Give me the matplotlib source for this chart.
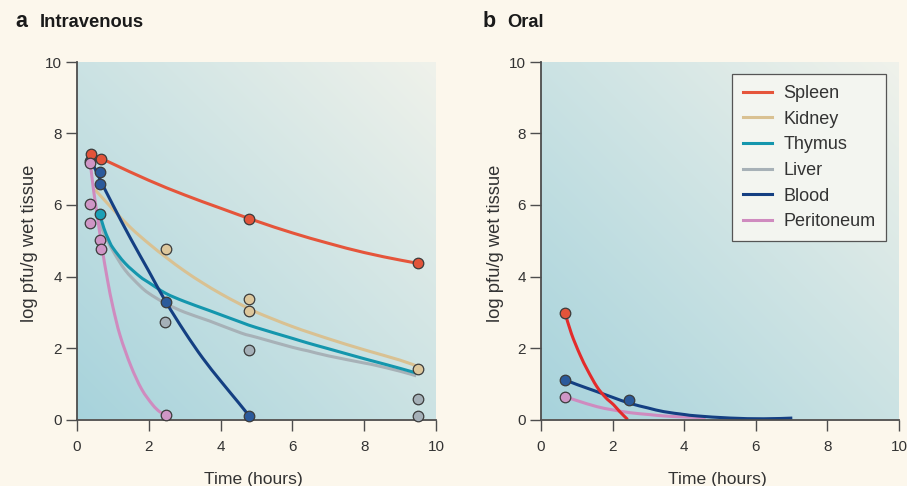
import numpy as np
import matplotlib
matplotlib.use("Agg")
import matplotlib.pyplot as plt
from matplotlib.lines import Line2D
from matplotlib.path import Path
from matplotlib.patches import PathPatch

# ---------------- data ----------------
organs = ["Spleen", "Kidney", "Thymus", "Liver", "Blood", "Peritoneum"]

# Panel a: intravenous – measured points
iv_spleen_x = [0.39, 0.66, 4.78, 9.5]
iv_spleen_y = [7.44, 7.28, 5.60, 4.37]
iv_kidney_x = [2.48, 4.78, 4.78, 9.5]
iv_kidney_y = [4.78, 3.37, 3.04, 1.42]
iv_thymus_x = [0.63]
iv_thymus_y = [5.76]
iv_liver_x = [2.46, 4.78, 9.5, 9.5]
iv_liver_y = [2.72, 1.94, 0.57, 0.10]
iv_blood_x = [0.37, 0.65, 0.65, 2.47, 4.78]
iv_blood_y = [7.24, 6.91, 6.58, 3.29, 0.10]
iv_perit_x = [0.37, 0.37, 0.35, 0.64, 0.68, 2.48]
iv_perit_y = [7.17, 6.02, 5.51, 5.02, 4.76, 0.13]

# Panel a: fitted curves
iv_spleen_fx = [0.39, 1.0, 2.0, 3.0, 4.0, 5.0, 6.0, 7.0, 8.0, 9.0, 9.5]
iv_spleen_fy = [7.44, 7.15, 6.69, 6.28, 5.91, 5.55, 5.22, 4.93, 4.67, 4.46, 4.37]
iv_kidney_fx = [0.5, 1.0, 1.5, 2.0, 2.5, 3.0, 3.5, 4.0, 4.5, 5.0, 6.0, 7.0, 8.0, 9.0, 9.5]
iv_kidney_fy = [6.43, 5.88, 5.36, 4.92, 4.52, 4.15, 3.82, 3.52, 3.25, 3.00, 2.60, 2.26, 1.95, 1.66, 1.48]
iv_thymus_fx = [0.63, 0.75, 0.88, 1.0, 1.34, 1.75, 2.0, 2.47, 3.0, 3.68, 4.57, 5.0, 6.0, 6.43, 7.0, 8.0, 8.3, 9.0, 9.45]
iv_thymus_fy = [5.76, 5.35, 5.03, 4.80, 4.37, 4.00, 3.83, 3.53, 3.30, 3.05, 2.72, 2.57, 2.27, 2.14, 1.98, 1.70, 1.62, 1.43, 1.30]
iv_liver_fx = [0.63, 0.75, 1.0, 1.34, 1.75, 2.0, 2.46, 3.0, 3.68, 4.57, 5.0, 6.0, 6.43, 7.0, 8.0, 8.3, 9.0, 9.45]
iv_liver_fy = [5.55, 5.20, 4.72, 4.18, 3.74, 3.53, 3.25, 3.00, 2.76, 2.42, 2.30, 2.02, 1.92, 1.78, 1.58, 1.52, 1.35, 1.22]
iv_blood_fx = [0.37, 0.65, 1.0, 1.5, 2.0, 2.47, 3.0, 3.5, 4.0, 4.5, 4.78]
iv_blood_fy = [7.30, 6.70, 6.00, 5.05, 4.15, 3.30, 2.45, 1.72, 1.08, 0.47, 0.12]
iv_perit_fx = [0.37, 0.45, 0.55, 0.69, 0.85, 1.0, 1.2, 1.5, 1.8, 2.1, 2.3, 2.48]
iv_perit_fy = [7.20, 6.50, 5.80, 4.85, 3.90, 3.15, 2.35, 1.50, 0.85, 0.42, 0.22, 0.13]

# Panel b: oral – measured points
or_spleen_x = [0.67]
or_spleen_y = [2.99]
or_blood_x = [0.67, 2.46]
or_blood_y = [1.11, 0.55]
or_perit_x = [0.67]
or_perit_y = [0.64]

# Panel b: fitted curves
or_spleen_fx = [0.67, 0.85, 1.09, 1.3, 1.56, 1.8, 2.03, 2.2, 2.42]
or_spleen_fy = [2.99, 2.40, 1.81, 1.38, 0.92, 0.62, 0.41, 0.22, 0.00]
or_blood_fx = [0.67, 1.0, 1.56, 2.0, 2.49, 3.0, 3.43, 4.0, 4.36, 5.29, 6.22, 7.02]
or_blood_fy = [1.11, 0.98, 0.78, 0.62, 0.45, 0.32, 0.22, 0.14, 0.10, 0.04, 0.02, 0.04]
or_perit_fx = [0.67, 1.0, 1.56, 2.0, 2.49, 3.0, 3.43, 4.0, 4.6]
or_perit_fy = [0.64, 0.53, 0.36, 0.27, 0.19, 0.14, 0.10, 0.07, 0.05]

x_ticks = [0, 2, 4, 6, 8, 10]
y_ticks = [0, 2, 4, 6, 8, 10]

# ---------------- style ----------------
line_col = {"Spleen": "#e5553b", "Kidney": "#d9c192", "Thymus": "#1496ad",
            "Liver": "#a7b1b7", "Blood": "#143f82", "Peritoneum": "#cf8bbf"}
mark_col = {"Spleen": "#e2543a", "Kidney": "#ddc79c", "Thymus": "#1ba0b6",
            "Liver": "#a5b0b8", "Blood": "#2b5a9b", "Peritoneum": "#cf96c6"}
oral_spleen_line = "#e32b2b"
BG = "#fcf7ec"
SPINE = "#4d4d4d"
TXT = "#333333"
FONT = ["Liberation Sans", "DejaVu Sans"]
plt.rcParams["font.family"] = FONT

fig = plt.figure(figsize=(9.07, 4.86), dpi=100, facecolor=BG)

W, H = 907.0, 486.0
def rect(x0, x1, ytop, ybot):
    return [x0 / W, 1 - ybot / H, (x1 - x0) / W, (ybot - ytop) / H]

axA = fig.add_axes(rect(77, 436, 62, 419.5))
axB = fig.add_axes(rect(541, 899, 62, 419.5))

c0 = np.array([0.655, 0.827, 0.862])
c1 = np.array([0.940, 0.948, 0.920])
n = 200
u = np.linspace(0, 1, n)
uu, vv = np.meshgrid(u, u)
t = (uu + vv) / 2.0
grad = c0[None, None, :] * (1 - t[..., None]) + c1[None, None, :] * t[..., None]

def style_axes(ax):
    ax.set_facecolor("none")
    ax.imshow(grad, extent=[0, 10, 0, 10], origin="lower", aspect="auto",
              interpolation="bilinear", zorder=0)
    ax.set_xlim(0, 10)
    ax.set_ylim(0, 10)
    ax.set_xticks(x_ticks)
    ax.set_yticks(y_ticks)
    for s in ["top", "right"]:
        ax.spines[s].set_visible(False)
    for s in ["left", "bottom"]:
        ax.spines[s].set_color(SPINE)
        ax.spines[s].set_linewidth(1.3)
        ax.spines[s].set_zorder(5)
    ax.tick_params(direction="out", length=8, width=1.0, color=SPINE,
                   labelcolor=TXT, labelsize=11)
    ax.tick_params(axis="x", pad=6.5)
    ax.tick_params(axis="y", pad=3)

style_axes(axA)
style_axes(axB)

LW = 2.2
MS = 7.6

def fit(ax, xs, ys, color, z):
    # smooth curve through the read points (cubic Bezier segments)
    p = np.column_stack([xs, ys]).astype(float)
    verts = [tuple(p[0])]
    codes = [Path.MOVETO]
    m = len(p)
    for i in range(m - 1):
        p0 = p[i - 1] if i > 0 else p[i]
        p1, p2 = p[i], p[i + 1]
        p3 = p[i + 2] if i + 2 < m else p[i + 1]
        c1_ = p1 + (p2 - p0) / 6.0
        c2_ = p2 - (p3 - p1) / 6.0
        verts += [tuple(c1_), tuple(c2_), tuple(p2)]
        codes += [Path.CURVE4] * 3
    patch = PathPatch(Path(verts, codes), facecolor="none", edgecolor=color,
                      lw=LW, zorder=z, capstyle="butt")
    ax.add_patch(patch)

def pts(ax, xs, ys, color, z):
    ax.plot(xs, ys, linestyle="none", marker="o", ms=MS, mfc=color,
            mec="#3b3b3b", mew=0.9, zorder=z, clip_on=False)

# Panel a
fit(axA, iv_liver_fx, iv_liver_fy, line_col["Liver"], 2)
fit(axA, iv_thymus_fx, iv_thymus_fy, line_col["Thymus"], 2.1)
fit(axA, iv_kidney_fx, iv_kidney_fy, line_col["Kidney"], 2.2)
fit(axA, iv_spleen_fx, iv_spleen_fy, line_col["Spleen"], 2.3)
fit(axA, iv_perit_fx, iv_perit_fy, line_col["Peritoneum"], 2.4)
fit(axA, iv_blood_fx, iv_blood_fy, line_col["Blood"], 2.5)

pts(axA, iv_liver_x, iv_liver_y, mark_col["Liver"], 6)
pts(axA, iv_kidney_x, iv_kidney_y, mark_col["Kidney"], 6)
pts(axA, iv_thymus_x, iv_thymus_y, mark_col["Thymus"], 6)
pts(axA, iv_blood_x, iv_blood_y, mark_col["Blood"], 6.1)
pts(axA, iv_spleen_x, iv_spleen_y, mark_col["Spleen"], 6.2)
pts(axA, iv_perit_x, iv_perit_y, mark_col["Peritoneum"], 6.3)

# Panel b
fit(axB, or_perit_fx, or_perit_fy, line_col["Peritoneum"], 2)
fit(axB, or_blood_fx, or_blood_fy, line_col["Blood"], 2.1)
fit(axB, or_spleen_fx, or_spleen_fy, oral_spleen_line, 2.2)
pts(axB, or_spleen_x, or_spleen_y, mark_col["Spleen"], 6)
pts(axB, or_blood_x, or_blood_y, mark_col["Blood"], 6)
pts(axB, or_perit_x, or_perit_y, mark_col["Peritoneum"], 6)

handles = [Line2D([0], [0], color=line_col[o], lw=LW) for o in organs]
leg = axB.legend(handles, organs, loc="upper right", bbox_to_anchor=(0.964, 0.966),
                 borderaxespad=0, fontsize=13, frameon=True, fancybox=False,
                 handlelength=1.65, handletextpad=0.6, labelspacing=0.48,
                 borderpad=0.6)
leg.get_frame().set_edgecolor("#555555")
leg.get_frame().set_linewidth(0.9)
leg.get_frame().set_facecolor("#f3f5f0")
leg.get_frame().set_alpha(1)
for txt in leg.get_texts():
    txt.set_color(TXT)
leg.set_zorder(10)

# labels & titles
base = 1 - 26.7 / H
fig.text(15 / W, base, "a", fontsize=15.5, fontweight="bold", ha="left", va="baseline", color="#1a1a1a")
fig.text(40 / W, base, "Intravenous", fontsize=13.2, fontweight="bold", ha="left", va="baseline", color="#1a1a1a")
fig.text(483 / W, base, "b", fontsize=15.5, fontweight="bold", ha="left", va="baseline", color="#1a1a1a")
fig.text(507 / W, base, "Oral", fontsize=13.2, fontweight="bold", ha="left", va="baseline", color="#1a1a1a")

for xc in (30, 495):
    fig.text(xc / W, 1 - 243 / H, "log pfu/g wet tissue", rotation=90, fontsize=13.2,
             ha="center", va="center", color=TXT)
for xc in (253, 717):
    fig.text(xc / W, 1 - 484 / H, "Time (hours)", fontsize=12.6,
             ha="center", va="baseline", color=TXT)

fig.savefig("out.png", dpi=100, facecolor=BG)
